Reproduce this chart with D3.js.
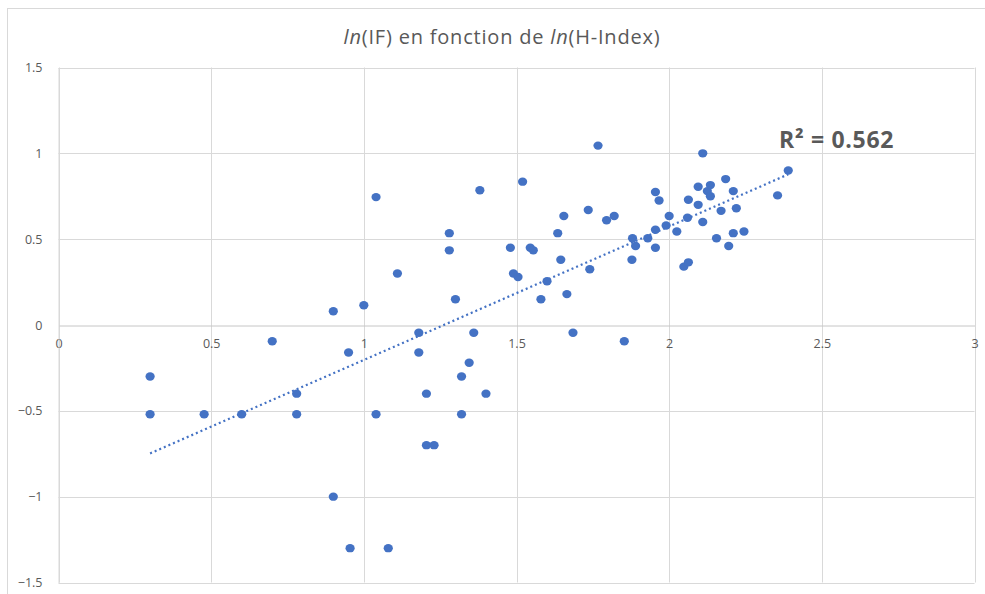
<!DOCTYPE html>
<html>
<head>
<meta charset="utf-8">
<script src="https://cdn.jsdelivr.net/npm/d3@7"></script>
<style>
  html, body { margin: 0; padding: 0; background: #ffffff; }
  svg { display: block; }
</style>
</head>
<body>
<svg id="chart" width="985" height="594"></svg>
<script>
// ---- data ----
const lnH = [0.30, 0.30, 0.477, 0.60, 0.70, 0.78, 0.78, 0.90, 0.90, 0.95,
  0.955, 1.00, 1.04, 1.04, 1.08, 1.11, 1.18, 1.18, 1.205, 1.205,
  1.23, 1.28, 1.28, 1.30, 1.32, 1.32, 1.345, 1.36, 1.38, 1.40,
  1.48, 1.49, 1.505, 1.52, 1.545, 1.555, 1.58, 1.60, 1.635, 1.645,
  1.655, 1.665, 1.685, 1.735, 1.74, 1.767, 1.795, 1.82, 1.853, 1.878,
  1.88, 1.89, 1.93, 1.955, 1.955, 1.955, 1.967, 1.99, 2.00, 2.025,
  2.048, 2.063, 2.06, 2.063, 2.095, 2.095, 2.11, 2.11, 2.125, 2.135,
  2.135, 2.155, 2.17, 2.185, 2.195, 2.21, 2.21, 2.22, 2.245, 2.355, 2.39];
const lnIF = [-0.30, -0.52, -0.52, -0.52, -0.095, -0.40, -0.52, 0.08, -1.00, -0.16,
  -1.30, 0.115, 0.745, -0.52, -1.30, 0.30, -0.045, -0.16, -0.40, -0.70,
  -0.70, 0.535, 0.435, 0.15, -0.30, -0.52, -0.22, -0.045, 0.785, -0.40,
  0.45, 0.30, 0.28, 0.835, 0.45, 0.435, 0.15, 0.255, 0.535, 0.38,
  0.635, 0.18, -0.045, 0.67, 0.325, 1.045, 0.61, 0.635, -0.095, 0.38,
  0.505, 0.46, 0.505, 0.775, 0.555, 0.45, 0.725, 0.58, 0.635, 0.545,
  0.34, 0.365, 0.625, 0.73, 0.805, 0.70, 1.00, 0.60, 0.78, 0.75,
  0.815, 0.505, 0.665, 0.85, 0.46, 0.78, 0.535, 0.68, 0.545, 0.755, 0.90];
const xTicks = [0, 0.5, 1, 1.5, 2, 2.5, 3];
const yTicks = [-1.5, -1, -0.5, 0, 0.5, 1, 1.5];
const rSquaredLabel = "R² = 0.562";

// ---- layout ----
const svg = d3.select("#chart");
const W = 985, H = 594;
const x = d3.scaleLinear().domain([0, 3]).range([58.5, 974.5]);
const y = d3.scaleLinear().domain([-1.5, 1.5]).range([582.5, 67.5]);

// outer chart border
svg.append("rect")
  .attr("x", 7.5).attr("y", 8.5)
  .attr("width", W + 20).attr("height", H + 20)
  .attr("fill", "#ffffff").attr("stroke", "#d9d9d9").attr("stroke-width", 1);

// title
const title = svg.append("text")
  .attr("x", 502).attr("y", 43.5)
  .attr("text-anchor", "middle")
  .attr("font-family", "'Open Sans', sans-serif")
  .attr("font-size", 20)
  .attr("letter-spacing", 0.8)
  .attr("fill", "#595959");
title.append("tspan").attr("font-style", "italic").text("ln");
title.append("tspan").text("(IF) en fonction de ");
title.append("tspan").attr("font-style", "italic").text("ln");
title.append("tspan").text("(H-Index)");

// gridlines
const grid = svg.append("g");
grid.selectAll("line.v").data(xTicks).join("line")
  .attr("class", "v")
  .attr("x1", d => Math.round(x(d)) + 0.5).attr("x2", d => Math.round(x(d)) + 0.5)
  .attr("y1", y(1.5)).attr("y2", y(-1.5))
  .attr("stroke", "#d9d9d9").attr("stroke-width", 1);
grid.selectAll("line.h").data(yTicks.filter(d => d !== 0)).join("line")
  .attr("class", "h")
  .attr("x1", x(0)).attr("x2", x(3))
  .attr("y1", d => Math.round(y(d)) + 0.5).attr("y2", d => Math.round(y(d)) + 0.5)
  .attr("stroke", "#d9d9d9").attr("stroke-width", 1);

// horizontal axis at y = 0
const xAxis = d3.axisBottom(x).tickValues(xTicks).tickSize(0).tickPadding(14)
  .tickFormat(d => d3.format("")(d));
const gx = svg.append("g")
  .attr("transform", `translate(0,${Math.round(y(0)) + 0.5})`)
  .call(xAxis);
gx.select(".domain").attr("stroke", "#c6c6c6");
gx.selectAll("text")
  .attr("font-family", "'Open Sans', sans-serif")
  .attr("font-size", 12.5)
  .attr("fill", "#595959");

// vertical axis labels
const yAxis = d3.axisLeft(y).tickValues(yTicks).tickSize(0).tickPadding(16)
  .tickFormat(d => d3.format("")(d));
const gy = svg.append("g")
  .attr("transform", `translate(${x(0)},0)`)
  .call(yAxis);
gy.select(".domain").attr("stroke", "#d9d9d9");
gy.selectAll("text")
  .attr("font-family", "'Open Sans', sans-serif")
  .attr("font-size", 12.5)
  .attr("fill", "#595959");

// linear trendline (least squares on the data)
const n = lnH.length;
const mx = d3.mean(lnH), my = d3.mean(lnIF);
let sxy = 0, sxx = 0;
for (let i = 0; i < n; i++) { sxy += (lnH[i] - mx) * (lnIF[i] - my); sxx += (lnH[i] - mx) ** 2; }
const slope = sxy / sxx, intercept = my - slope * mx;
const xr = d3.extent(lnH);
svg.append("line")
  .attr("x1", x(xr[0])).attr("y1", y(intercept + slope * xr[0]))
  .attr("x2", x(xr[1])).attr("y2", y(intercept + slope * xr[1]))
  .attr("stroke", "#4472c4").attr("stroke-width", 2.2)
  .attr("stroke-dasharray", "2,3");

// points
const pts = lnH.map((v, i) => ({ x: v, y: lnIF[i] }));
svg.append("g").selectAll("ellipse").data(pts).join("ellipse")
  .attr("cx", d => x(d.x)).attr("cy", d => y(d.y))
  .attr("rx", 4.6).attr("ry", 4.2)
  .attr("fill", "#4472c4");

// R² label
svg.append("text")
  .attr("x", 779).attr("y", 147.5)
  .attr("font-family", "'Open Sans', sans-serif")
  .attr("font-weight", "bold")
  .attr("font-size", 23)
  .attr("letter-spacing", 0.7)
  .attr("fill", "#595959")
  .text(rSquaredLabel);
</script>
</body>
</html>
